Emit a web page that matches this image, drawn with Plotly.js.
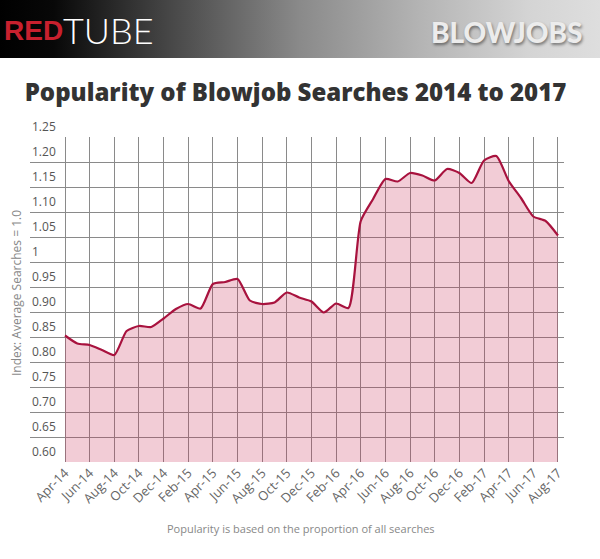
<!DOCTYPE html>
<html>
<head>
<meta charset="utf-8">
<script src="https://cdn.plot.ly/plotly-3.0.1.min.js"></script>
<style>
  html, body { margin: 0; padding: 0; background: #ffffff; }
  #wrap { position: relative; width: 600px; height: 559px; }
  #banner { position: absolute; left: 0; top: 0; width: 600px; height: 58px;
    background: linear-gradient(to right, #000000 0%, #080808 9%, #464646 28%, #8a8a8a 50%, #b4b4b4 70%, #d4d4d4 88%, #dedede 100%); }
  #chart { position: absolute; left: 0; top: 0; width: 600px; height: 559px; }
</style>
</head>
<body>
<div id="wrap"><div id="banner"></div><div id="chart"></div></div>
<script>
const months = ["Apr-14","May-14","Jun-14","Jul-14","Aug-14","Sep-14","Oct-14","Nov-14","Dec-14",
  "Jan-15","Feb-15","Mar-15","Apr-15","May-15","Jun-15","Jul-15","Aug-15","Sep-15","Oct-15","Nov-15","Dec-15",
  "Jan-16","Feb-16","Mar-16","Apr-16","May-16","Jun-16","Jul-16","Aug-16","Sep-16","Oct-16","Nov-16","Dec-16",
  "Jan-17","Feb-17","Mar-17","Apr-17","May-17","Jun-17","Jul-17","Aug-17"];
const popularity = [0.853,0.837,0.834,0.824,0.814,0.862,0.872,0.870,0.887,
  0.906,0.916,0.907,0.956,0.960,0.966,0.923,0.916,0.919,0.939,0.929,0.921,
  0.899,0.917,0.908,1.082,1.126,1.166,1.161,1.178,1.173,1.163,1.186,1.178,
  1.158,1.203,1.212,1.162,1.128,1.091,1.082,1.053];
const xTickLabels = ["Apr-14","Jun-14","Aug-14","Oct-14","Dec-14","Feb-15","Apr-15","Jun-15","Aug-15","Oct-15",
  "Dec-15","Feb-16","Apr-16","Jun-16","Aug-16","Oct-16","Dec-16","Feb-17","Apr-17","Jun-17","Aug-17"];
const yTickValues = [0.60,0.65,0.70,0.75,0.80,0.85,0.90,0.95,1.00,1.05,1.10,1.15,1.20,1.25];
const yTickLabels = ["0.60","0.65","0.70","0.75","0.80","0.85","0.90","0.95","1","1.05","1.10","1.15","1.20","1.25"];

const trace = {
  x: months, y: popularity, type: 'scatter', mode: 'lines',
  line: { color: '#a8123e', width: 2.2, shape: 'spline', smoothing: 0.6 },
  fill: 'tozeroy', fillcolor: 'rgba(200,40,85,0.24)', hoverinfo: 'skip'
};

// y tick labels sit just above their grid lines at the left edge of the grid
const yLabelAnnotations = yTickValues.map((v, i) => ({
  text: yTickLabels[i], xref: 'paper', yref: 'y', x: 0, y: v,
  xanchor: 'left', yanchor: 'bottom', showarrow: false,
  font: { family: 'Open Sans, sans-serif', size: 12, color: '#555' }
}));

const layout = {
  width: 600, height: 559,
  paper_bgcolor: 'rgba(0,0,0,0)', plot_bgcolor: 'rgba(0,0,0,0)',
  margin: { l: 30, r: 36, t: 137, b: 97 },
  showlegend: false,
  font: { family: 'Open Sans, sans-serif', color: '#555' },
  title: {
    text: 'Popularity of Blowjob Searches 2014 to 2017',
    xref: 'container', yref: 'container', x: 0.4925, y: 0.835, xanchor: 'center', yanchor: 'middle',
    font: { family: 'Open Sans, sans-serif', size: 24, weight: 800, color: '#333333' }
  },
  xaxis: {
    type: 'category', range: [-2.84, 40.49],
    tickmode: 'array', tickvals: xTickLabels, ticktext: xTickLabels,
    tickangle: -45, tickfont: { size: 13, color: '#666' },
    showgrid: true, gridcolor: '#8a8a8a', gridwidth: 1,
    zeroline: false, showline: false, ticks: '', fixedrange: true
  },
  yaxis: {
    range: [0.6, 1.25], tickmode: 'array', tickvals: yTickValues, ticktext: yTickLabels,
    showticklabels: false,
    showgrid: true, gridcolor: '#8a8a8a', gridwidth: 1,
    zeroline: false, showline: false, ticks: '', fixedrange: true
  },
  annotations: yLabelAnnotations.concat([
    { text: 'RED', xref: 'paper', yref: 'paper', x: (63-30)/534, y: 1 + (137-30)/325,
      xanchor: 'right', yanchor: 'middle', showarrow: false, xshift: 2,
      font: { family: 'Liberation Sans Narrow, Arial Narrow, sans-serif', size: 28, weight: 700, color: '#c8202e' } },
    { text: 'TUBE', xref: 'paper', yref: 'paper', x: (63-30)/534, y: 1 + (137-30)/325,
      xanchor: 'left', yanchor: 'middle', showarrow: false, xshift: -2,
      font: { family: 'Lato, sans-serif', size: 36, weight: 300, color: '#ffffff' } },
    { text: 'BLOWJOBS', xref: 'paper', yref: 'paper', x: (585-30)/534, y: 1 + (137-32)/325,
      xanchor: 'right', yanchor: 'middle', showarrow: false,
      font: { family: 'Lato, sans-serif', size: 28, weight: 900, color: '#ececec',
              shadow: '1px 2px 3px rgba(0,0,0,0.45)' } },
    { text: 'Index: Average Searches = 1.0', xref: 'paper', yref: 'paper', x: (16-30)/534, y: (462-293)/325,
      xanchor: 'center', yanchor: 'middle', textangle: -90, showarrow: false,
      font: { family: 'Open Sans, sans-serif', size: 12, color: '#888' } },
    { text: 'Popularity is based on the proportion of all searches', xref: 'paper', yref: 'paper',
      x: (301-30)/534, y: -(528-462)/325, xanchor: 'center', yanchor: 'middle', showarrow: false,
      font: { family: 'Open Sans, sans-serif', size: 11, color: '#888' } }
  ])
};

Plotly.newPlot('chart', [trace], layout, { staticPlot: true, displayModeBar: false });
</script>
</body>
</html>
